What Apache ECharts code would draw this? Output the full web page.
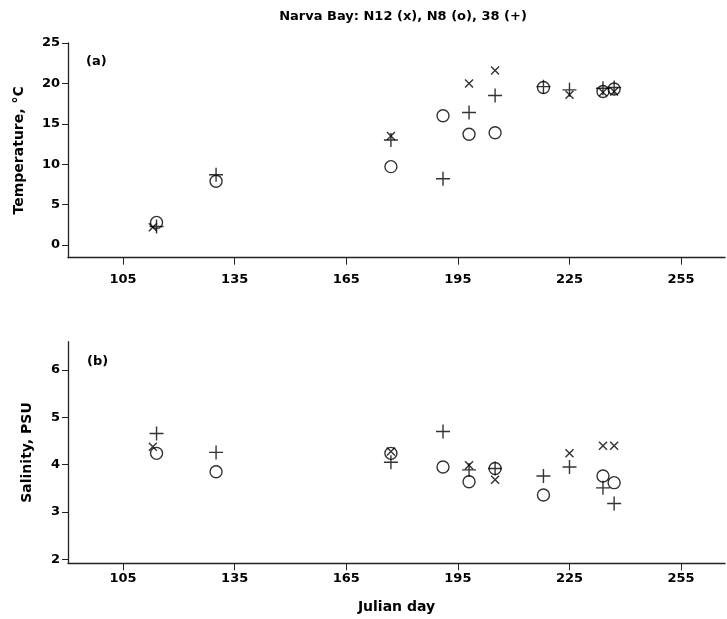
<!DOCTYPE html>
<html>
<head>
<meta charset="utf-8">
<script src="https://cdn.jsdelivr.net/npm/echarts@6/dist/echarts.min.js"></script>
<style>
  html, body { margin: 0; padding: 0; background: #fff; }
  #chart { width: 727px; height: 619px; }
</style>
</head>
<body>
<div id="chart"></div>
<script>
// sampling days per station
const daysN12 = [113, 177, 198, 205, 225, 234, 237];
const daysN8 = [114, 130, 177, 191, 198, 205, 218, 234, 237];
const days38 = [114, 130, 177, 191, 198, 205, 218, 225, 234, 237];

// (a) temperature, deg C
const tempN12 = [2.2, 13.5, 20.0, 21.6, 18.6, 18.9, 19.0];
const tempN8 = [2.8, 7.9, 9.7, 16.0, 13.7, 13.9, 19.5, 19.0, 19.3];
const temp38 = [2.3, 8.7, 13.0, 8.2, 16.4, 18.5, 19.6, 19.2, 19.4, 19.5];

// (b) salinity, PSU
const salN12 = [4.38, 4.28, 3.99, 3.68, 4.24, 4.40, 4.40];
const salN8 = [4.24, 3.85, 4.24, 3.95, 3.64, 3.92, 3.36, 3.76, 3.62];
const sal38 = [4.66, 4.26, 4.05, 4.70, 3.89, 3.92, 3.76, 3.95, 3.51, 3.18];

const dayTicks = [105, 135, 165, 195, 225, 255];
const tempTicks = [0, 5, 10, 15, 20, 25];
const salTicks = [2, 3, 4, 5, 6];

const ink = '#000';
const font = 'DejaVu Sans';

const pair = (xs, ys) => xs.map((x, i) => [x, ys[i]]);

const marks = {
    x: { symbol: 'path://M0,0L10,10M10,0L0,10', symbolSize: 8 },
    o: { symbol: 'circle', symbolSize: 12 },
    plus: { symbol: 'path://M5,0L5,10M0,5L10,5', symbolSize: 14 },
};

const scatter = (name, mark, idx, data) => ({
    name: name,
    type: 'scatter',
    xAxisIndex: idx,
    yAxisIndex: idx,
    symbol: marks[mark].symbol,
    symbolSize: marks[mark].symbolSize,
    itemStyle: { color: 'rgba(0,0,0,0)', borderColor: ink, borderWidth: 1.4 },
    silent: true,
    data: data,
});

const xAxisBase = (idx, withName) => ({
    type: 'value',
    gridIndex: idx,
    min: 90.2,
    max: 266.8,
    splitLine: { show: false },
    axisLine: { onZero: false, lineStyle: { color: '#222', width: 1.3 } },
    axisTick: { customValues: dayTicks, length: 7, lineStyle: { color: '#222' } },
    axisLabel: {
        customValues: dayTicks,
        margin: idx === 0 ? 15 : 9,
        color: '#000',
        fontFamily: font,
        fontWeight: 'bold',
        fontSize: 13,
    },
    name: withName ? 'Julian day' : '',
    nameLocation: 'middle',
    nameGap: 37,
    nameTextStyle: { color: '#000', fontFamily: font, fontWeight: 'bold', fontSize: 14 },
});

const yAxisBase = (idx, min, max, ticks, name, gap) => ({
    type: 'value',
    gridIndex: idx,
    min: min,
    max: max,
    splitLine: { show: false },
    axisLine: { show: true, lineStyle: { color: '#222', width: 1.3 } },
    axisTick: { show: true, customValues: ticks, length: 6, lineStyle: { color: '#222' } },
    axisLabel: {
        customValues: ticks,
        margin: 8,
        color: '#000',
        fontFamily: font,
        fontWeight: 'bold',
        fontSize: 13,
    },
    name: name,
    nameLocation: 'middle',
    nameRotate: 90,
    nameGap: gap,
    nameTextStyle: { color: '#000', fontFamily: font, fontWeight: 'bold', fontSize: 14 },
});

const chart = echarts.init(document.getElementById('chart'));
chart.setOption({
    backgroundColor: '#fff',
    animation: false,
    title: [
        {
            text: 'Narva Bay: N12 (x), N8 (o), 38 (+)',
            left: 398,
            textAlign: 'center',
            top: 5,
            textStyle: { color: '#000', fontFamily: font, fontWeight: 'bold', fontSize: 13 },
        },
        {
            text: '(a)',
            left: 81,
            top: 50,
            textStyle: { color: '#000', fontFamily: font, fontWeight: 'bold', fontSize: 13 },
        },
        {
            text: '(b)',
            left: 82,
            top: 350,
            textStyle: { color: '#000', fontFamily: font, fontWeight: 'bold', fontSize: 13 },
        },
    ],
    grid: [
        { left: 68, right: 2, top: 43, height: 214.7 },
        { left: 68, right: 2, top: 341.7, height: 221.6 },
    ],
    xAxis: [xAxisBase(0, false), xAxisBase(1, true)],
    yAxis: [
        yAxisBase(0, -1.57, 25, tempTicks, 'Temperature, \u00B0C', 42),
        yAxisBase(1, 1.915, 6.6, salTicks, 'Salinity, PSU', 34),
    ],
    series: [
        scatter('N12', 'x', 0, pair(daysN12, tempN12)),
        scatter('N8', 'o', 0, pair(daysN8, tempN8)),
        scatter('38', 'plus', 0, pair(days38, temp38)),
        scatter('N12', 'x', 1, pair(daysN12, salN12)),
        scatter('N8', 'o', 1, pair(daysN8, salN8)),
        scatter('38', 'plus', 1, pair(days38, sal38)),
    ],
});
</script>
</body>
</html>
